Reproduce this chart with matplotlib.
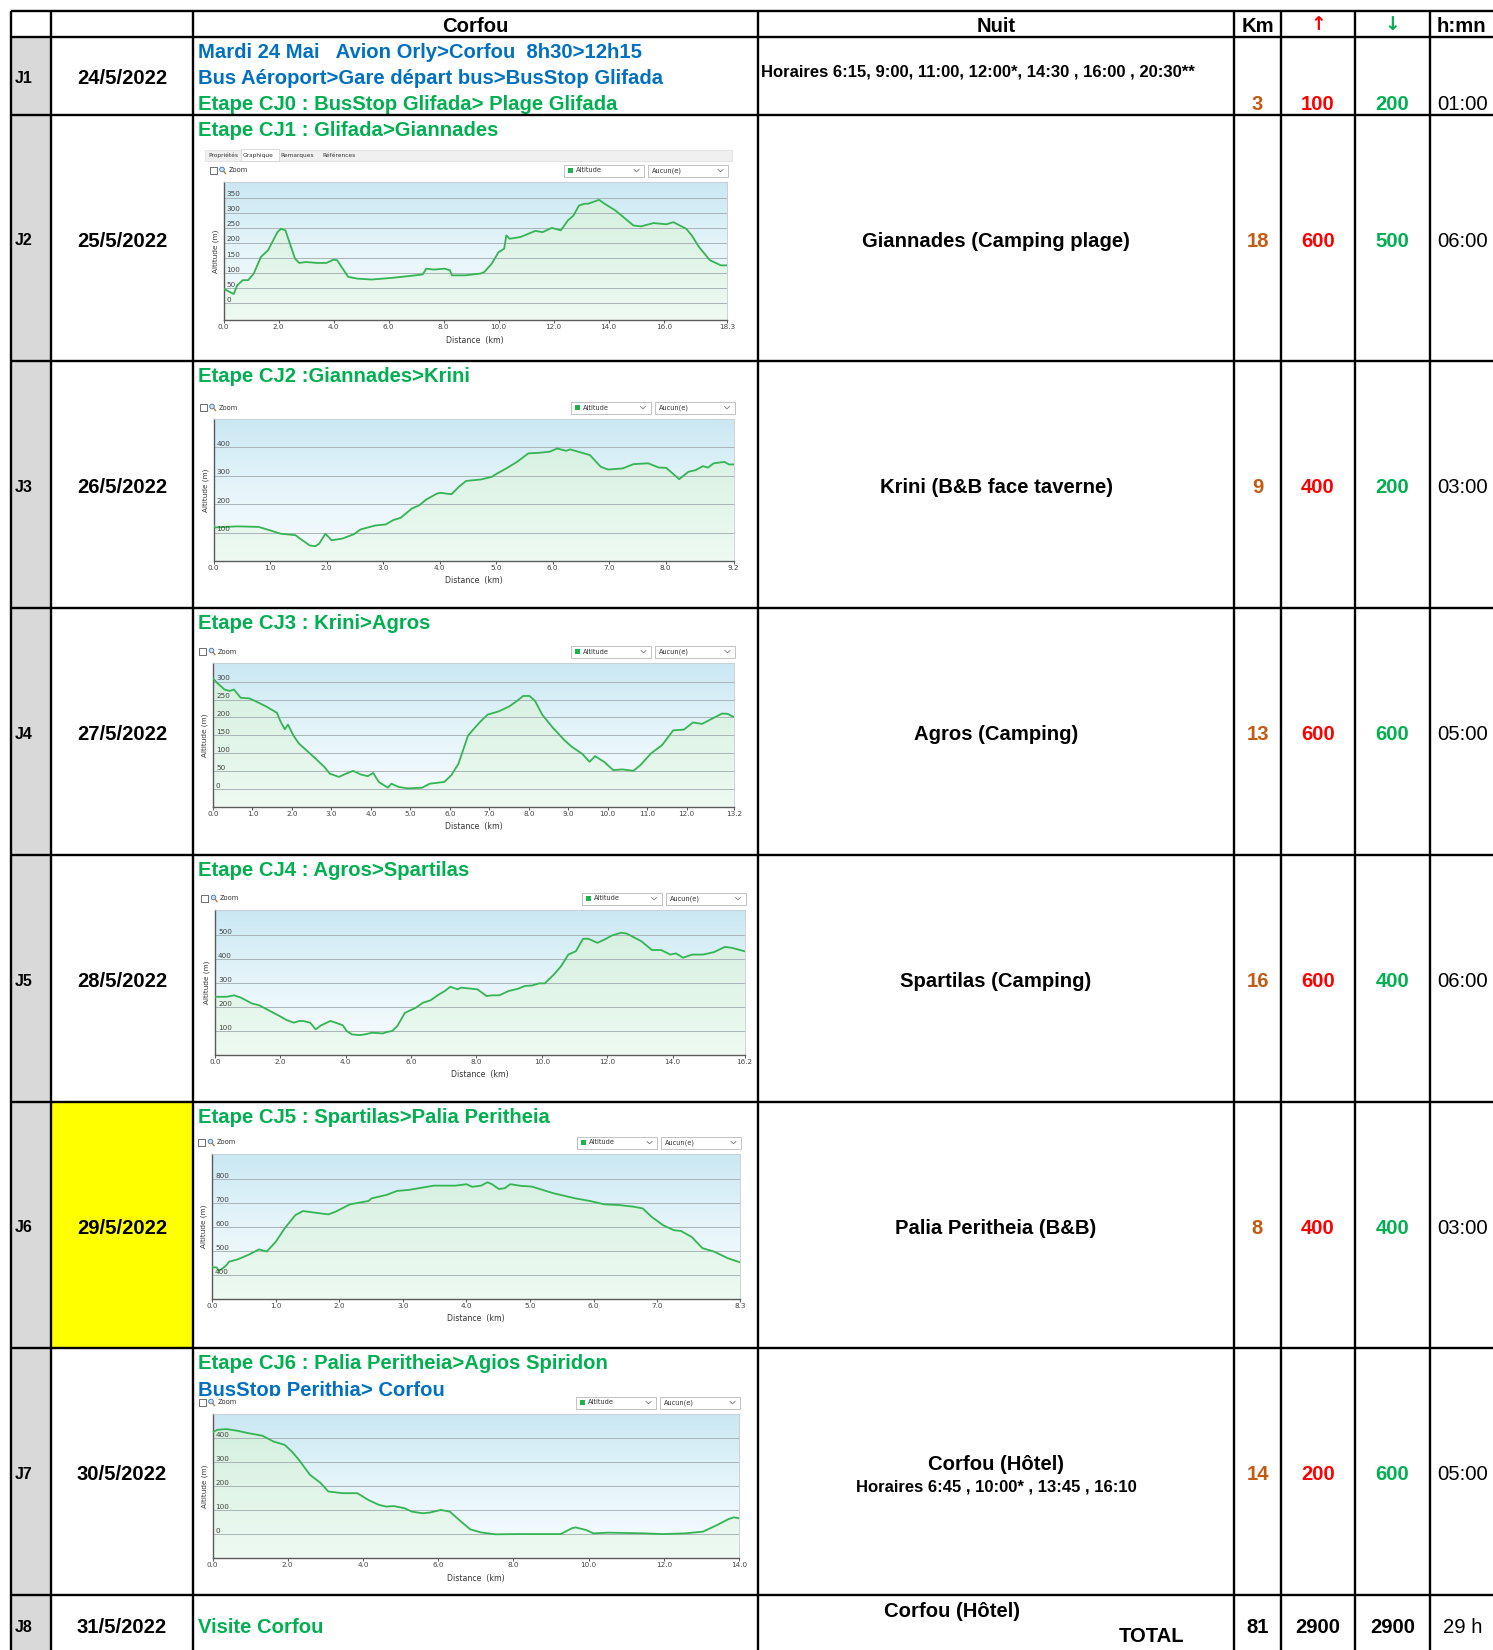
import numpy as np
import matplotlib.pyplot as plt
from matplotlib.patches import Rectangle, Circle
from matplotlib.colors import LinearSegmentedColormap
import matplotlib.transforms as mtransforms

plt.rcParams['font.family'] = ['Liberation Sans', 'DejaVu Sans']

W, H = 1493, 1650

# ---------------- table data ----------------
days = ['J1', 'J2', 'J3', 'J4', 'J5', 'J6', 'J7', 'J8']
dates = ['24/5/2022', '25/5/2022', '26/5/2022', '27/5/2022',
         '28/5/2022', '29/5/2022', '30/5/2022', '31/5/2022']
stages = ['Etape CJ0 : BusStop Glifada> Plage Glifada',
          'Etape CJ1 : Glifada>Giannades',
          'Etape CJ2 :Giannades>Krini',
          'Etape CJ3 : Krini>Agros',
          'Etape CJ4 : Agros>Spartilas',
          'Etape CJ5 : Spartilas>Palia Peritheia',
          'Etape CJ6 : Palia Peritheia>Agios Spiridon',
          'Visite Corfou']
travel_j1 = ['Mardi 24 Mai   Avion Orly>Corfou  8h30>12h15',
             'Bus Aéroport>Gare départ bus>BusStop Glifada']
travel_j7 = 'BusStop Perithia> Corfou'
nights = ['', 'Giannades (Camping plage)', 'Krini (B&B face taverne)',
          'Agros (Camping)', 'Spartilas (Camping)', 'Palia Peritheia (B&B)',
          'Corfou (Hôtel)', 'Corfou (Hôtel)']
bus_j1 = 'Horaires 6:15, 9:00, 11:00, 12:00*, 14:30 , 16:00 , 20:30**'
bus_j7 = 'Horaires 6:45 , 10:00* , 13:45 , 16:10'
km = [3, 18, 9, 13, 16, 8, 14]
ascent = [100, 600, 400, 600, 600, 400, 200]
descent = [200, 500, 200, 600, 400, 400, 600]
hours = [1, 6, 3, 5, 6, 3, 5]

# ---------------- elevation profiles (km, m) ----------------
cj1_profile = [(0, 49), (0.37, 31), (0.5, 60), (0.7, 77), (0.9, 77), (1.1, 99), (1.36, 154),
               (1.62, 176), (1.96, 236), (2.09, 247), (2.25, 242), (2.6, 148), (2.75, 134),
               (3.0, 137), (3.4, 134), (3.74, 134), (4.0, 145), (4.13, 143), (4.53, 88),
               (4.86, 82), (5.39, 79), (6.18, 85), (6.98, 93), (7.24, 96), (7.37, 115),
               (7.64, 112), (8.03, 115), (8.23, 110), (8.3, 93), (8.56, 93), (8.8, 93),
               (9.35, 99), (9.48, 104), (9.75, 132), (10.0, 170), (10.2, 181), (10.28, 225),
               (10.4, 214), (10.8, 220), (11.33, 240), (11.6, 236), (11.93, 250), (12.26, 242),
               (12.52, 275), (12.72, 291), (12.92, 324), (13.12, 330), (13.25, 330),
               (13.65, 343), (13.85, 330), (14.24, 308), (14.9, 258), (15.17, 255),
               (15.63, 266), (16.1, 262), (16.35, 269), (16.82, 247), (17.02, 225),
               (17.28, 187), (17.68, 143), (18.08, 126), (18.3, 126)]
cj2_profile = [(0, 126), (0.03, 118), (0.42, 122), (0.8, 120), (1.0, 108), (1.19, 96),
               (1.45, 91), (1.51, 82), (1.7, 55), (1.8, 52), (1.87, 61), (1.98, 96),
               (2.09, 73), (2.28, 79), (2.48, 94), (2.6, 111), (2.86, 125), (3.05, 129),
               (3.18, 144), (3.31, 152), (3.51, 185), (3.64, 196), (3.76, 216), (3.96, 238),
               (4.02, 240), (4.21, 235), (4.34, 261), (4.47, 282), (4.73, 287), (4.92, 296),
               (4.99, 305), (5.18, 326), (5.37, 349), (5.57, 379), (5.76, 381), (5.95, 385),
               (6.08, 396), (6.24, 388), (6.31, 393), (6.66, 373), (6.85, 332), (6.98, 322),
               (7.24, 326), (7.43, 341), (7.69, 344), (7.88, 329), (8.01, 328), (8.24, 288),
               (8.4, 314), (8.53, 320), (8.66, 334), (8.75, 329), (8.85, 344), (9.04, 349),
               (9.12, 340), (9.2, 340)]
cj3_profile = [(0, 309), (0.1, 297), (0.29, 278), (0.42, 274), (0.53, 278), (0.7, 255),
               (0.93, 253), (1.16, 241), (1.34, 231), (1.48, 222), (1.62, 213), (1.71, 189),
               (1.82, 167), (1.9, 180), (2.03, 151), (2.17, 128), (2.36, 109), (2.59, 86),
               (2.82, 62), (2.96, 43), (3.19, 34), (3.37, 43), (3.55, 51), (3.74, 41),
               (3.92, 36), (4.06, 45), (4.2, 20), (4.43, 4), (4.52, 15), (4.7, 6), (4.94, 2),
               (5.3, 4), (5.49, 15), (5.86, 20), (6.04, 39), (6.22, 71), (6.46, 149),
               (6.59, 166), (6.78, 189), (6.96, 208), (7.24, 217), (7.51, 231), (7.7, 246),
               (7.86, 260), (8.02, 260), (8.16, 246), (8.34, 208), (8.62, 170), (8.9, 137),
               (9.08, 119), (9.36, 98), (9.54, 76), (9.68, 92), (9.91, 76), (10.14, 53),
               (10.37, 55), (10.65, 51), (10.83, 67), (11.1, 100), (11.38, 123), (11.66, 164),
               (11.93, 166), (12.16, 186), (12.39, 182), (12.67, 198), (12.9, 211),
               (13.04, 210), (13.2, 201)]
cj4_profile = [(0, 243), (0.36, 243), (0.58, 249), (0.8, 239), (1.13, 215), (1.36, 207),
               (1.69, 183), (1.97, 163), (2.19, 146), (2.41, 135), (2.58, 142), (2.69, 142),
               (2.91, 135), (3.08, 107), (3.25, 124), (3.53, 142), (3.69, 135), (3.91, 124),
               (4.03, 100), (4.19, 86), (4.42, 83), (4.58, 86), (4.81, 93), (5.14, 90),
               (5.25, 96), (5.42, 100), (5.58, 121), (5.81, 176), (6.14, 197), (6.36, 218),
               (6.59, 228), (6.81, 249), (7.03, 267), (7.2, 285), (7.42, 274), (7.53, 281),
               (8.03, 274), (8.31, 246), (8.48, 249), (8.7, 249), (8.98, 267), (9.26, 276),
               (9.48, 288), (9.7, 290), (9.92, 299), (10.09, 299), (10.37, 336), (10.59, 371),
               (10.81, 419), (11.04, 433), (11.26, 485), (11.42, 485), (11.7, 468),
               (11.92, 482), (12.15, 499), (12.42, 510), (12.59, 507), (13.04, 475),
               (13.37, 438), (13.65, 438), (13.93, 419), (14.1, 424), (14.32, 406),
               (14.6, 419), (14.93, 419), (15.26, 429), (15.6, 451), (15.82, 447), (16.2, 433)]
cj5_profile = [(0, 432), (0.07, 432), (0.11, 418), (0.17, 428), (0.23, 442), (0.27, 456),
               (0.4, 465), (0.57, 484), (0.74, 507), (0.86, 498), (1.0, 538), (1.14, 594),
               (1.31, 650), (1.43, 667), (1.6, 661), (1.83, 653), (1.94, 664), (2.17, 695),
               (2.46, 709), (2.51, 720), (2.74, 734), (2.91, 751), (3.09, 755), (3.31, 765),
               (3.49, 773), (3.83, 773), (4.0, 779), (4.09, 768), (4.23, 773), (4.33, 787),
               (4.4, 779), (4.51, 759), (4.6, 762), (4.69, 779), (4.86, 772), (5.03, 769),
               (5.37, 741), (5.71, 720), (5.94, 709), (6.17, 695), (6.4, 692), (6.63, 685),
               (6.77, 678), (6.91, 643), (7.09, 608), (7.26, 587), (7.37, 584), (7.54, 559),
               (7.71, 512), (7.89, 498), (8.11, 470), (8.3, 453)]
cj6_profile = [(0, 425), (0.13, 436), (0.37, 439), (0.66, 432), (0.95, 422), (1.33, 411),
               (1.62, 387), (1.92, 373), (2.11, 345), (2.3, 310), (2.59, 248), (2.88, 213),
               (3.08, 178), (3.46, 171), (3.85, 171), (4.14, 143), (4.43, 122), (4.62, 115),
               (4.82, 117), (5.11, 108), (5.3, 94), (5.59, 87), (5.78, 90), (6.07, 101),
               (6.31, 94), (6.56, 59), (6.85, 20), (7.14, 7), (7.52, -1), (8.1, 0), (9.26, 0),
               (9.55, 24), (9.65, 28), (9.94, 17), (10.13, 3), (10.52, 6), (11.49, 3),
               (11.97, 0), (12.55, 3), (13.04, 10), (13.42, 38), (13.71, 62), (13.86, 70),
               (14.0, 66)]

# ---------------- layout ----------------
BLUE, GREEN, RED, BROWN = '#0070C0', '#00B050', '#FF0000', '#C55A11'
col_x = [11, 51, 193, 758, 1234, 1281, 1355, 1430]
row_y = [11, 37, 115, 361, 608, 855, 1102, 1348, 1595, 1650]
FS = 14.6

bg_cmap = LinearSegmentedColormap.from_list('bg', ['#f7fcfe', '#e6f5fa', '#cae8f3'])
fill_cmap = LinearSegmentedColormap.from_list('fill', ['#eefaf2', '#d2efdd'])


def fig_rect(l, t, r, b):
    return [l / W, 1 - b / H, (r - l) / W, (b - t) / H]


def txt(ax, x, y, s, fs=FS, bold=True, **kw):
    # y is the visual middle of capital letters
    ax.text(x, y + 0.497 * fs, s, fontsize=fs, weight='bold' if bold else 'normal',
            va='baseline', **kw)


def draw_profile(fig, ax0, box, prof, ylim, yticks, xticks, xlabels, tabs=False):
    l, t, r, b = box
    # white screenshot panel (hides what lies under it)
    ptop = t - 34 if tabs else t - 18
    ax0.add_patch(Rectangle((l - 20, ptop), r - l + 28, b - ptop + 28,
                            fc='white', ec='none', zorder=4))
    if tabs:
        ax0.add_patch(Rectangle((l - 19, t - 32), r - l + 24, 11, fc='#f0f0f0',
                                ec='#dddddd', lw=0.5, zorder=5))
        ax0.add_patch(Rectangle((l + 17, t - 33), 38, 12, fc='white',
                                ec='#cccccc', lw=0.5, zorder=5))
        for tx, lab in zip([l - 15, l + 19, l + 57, l + 99],
                           ['Propriétés', 'Graphique', 'Remarques', 'Références']):
            ax0.text(tx, t - 26.5, lab, fontsize=4.2, family='DejaVu Sans',
                     color='#333333', va='center', zorder=6)
    zy = t - 11.5
    ax0.add_patch(Rectangle((l - 14, zy - 3.5), 7, 7, fc='white', ec='#555555',
                            lw=0.6, zorder=5))
    ax0.add_patch(Circle((l - 1.5, zy - 1), 2.3, fc='#cfe3f5', ec='#3a6fb0', lw=0.6, zorder=5))
    ax0.plot([l + 0.2, l + 2], [zy + 0.8, zy + 3], color='#b08030', lw=1.0, zorder=5)
    ax0.text(l + 5, zy, 'Zoom', fontsize=4.8, family='DejaVu Sans', color='#333333',
             va='center', zorder=6)
    for x0, x1, lab, sq in [(r - 163, r - 83, 'Altitude', True), (r - 79, r + 1, 'Aucun(e)', False)]:
        ax0.add_patch(Rectangle((x0, zy - 6), x1 - x0, 12, fc='white', ec='#b8b8b8',
                                lw=0.6, zorder=5))
        tx = x0 + 4
        if sq:
            ax0.add_patch(Rectangle((x0 + 4, zy - 2.5), 5, 5, fc='#1db34a', ec='none', zorder=6))
            tx = x0 + 12
        ax0.text(tx, zy, lab, fontsize=4.8, family='DejaVu Sans', color='#333333',
                 va='center', zorder=6)
        ax0.plot([x1 - 10, x1 - 7.5, x1 - 5], [zy - 1, zy + 1.3, zy - 1], color='#777777',
                 lw=0.6, zorder=6)
    ax0.text((l + r) / 2, b + 20, 'Distance  (km)', fontsize=5.6, family='DejaVu Sans',
             color='#333333', ha='center', va='center', zorder=6)
    ax0.text(l - 8, (t + b) / 2, 'Altitude (m)', fontsize=5.2, family='DejaVu Sans',
             color='#333333', ha='center', va='center', rotation=90, zorder=6)

    ax = fig.add_axes(fig_rect(l, t, r, b))
    d = [p[0] for p in prof]
    a = [p[1] for p in prof]
    xmax = xticks[-1]
    grad = np.linspace(0, 1, 256).reshape(-1, 1)
    ext = [0, xmax, ylim[0], ylim[1]]
    ax.imshow(grad, extent=ext, origin='lower', aspect='auto', cmap=bg_cmap, zorder=0)
    poly = ax.fill_between(d, a, ylim[0], color='none', lw=0)
    im = ax.imshow(grad, extent=ext, origin='lower', aspect='auto', cmap=fill_cmap, zorder=1)
    im.set_clip_path(poly.get_paths()[0], transform=ax.transData)
    lab_tr = mtransforms.offset_copy(ax.get_yaxis_transform(), fig=fig, x=3, y=0.5, units='dots')
    for v in yticks:
        ax.axhline(v, color='#a9b3b8', lw=0.7, zorder=2)
        ax.text(0, v, str(v), transform=lab_tr, fontsize=5.2, family='DejaVu Sans',
                color='#444444', va='bottom', ha='left', zorder=4)
    ax.plot(d, a, color='#34b454', lw=1.3, zorder=3)
    ax.set_xlim(0, xmax)
    ax.set_ylim(*ylim)
    ax.set_yticks([])
    ax.set_xticks(xticks)
    ax.set_xticklabels(xlabels, fontsize=5.2, family='DejaVu Sans', color='#444444')
    ax.tick_params(axis='x', length=2.2, width=0.7, color='#555555', pad=1)
    for s in ['left', 'bottom']:
        ax.spines[s].set_color('#5a5a5a')
        ax.spines[s].set_linewidth(1.0)
    for s in ['top', 'right']:
        ax.spines[s].set_color('#c5cdd1')
        ax.spines[s].set_linewidth(0.6)
    return ax


fig = plt.figure(figsize=(W / 100, H / 100), dpi=100)
ax0 = fig.add_axes([0, 0, 1, 1])
ax0.set_xlim(0, W)
ax0.set_ylim(H, 0)
ax0.axis('off')

# cell fills
ax0.add_patch(Rectangle((col_x[0], row_y[1]), col_x[1] - col_x[0], H - row_y[1],
                        fc='#D9D9D9', ec='none', zorder=1))
ax0.add_patch(Rectangle((col_x[1], row_y[6]), col_x[2] - col_x[1], row_y[7] - row_y[6],
                        fc='#FFFF00', ec='none', zorder=1))

# grid lines
for y in row_y[:-1]:
    ax0.plot([col_x[0], W], [y, y], color='black', lw=1.7, zorder=10, solid_capstyle='butt')
for x in col_x:
    ax0.plot([x, x], [row_y[0], H], color='black', lw=1.7, zorder=10, solid_capstyle='butt')

cx = [(col_x[i] + col_x[i + 1]) / 2 for i in range(len(col_x) - 1)]
hx = 1437

# header
hy = 25
txt(ax0, cx[2], hy, 'Corfou', ha='center')
txt(ax0, cx[3], hy, 'Nuit', ha='center')
txt(ax0, cx[4], hy, 'Km', ha='center')
ax0.text(cx[5], hy, '↑', fontsize=13.5, family='DejaVu Sans', weight='bold', ha='center',
         va='center', color=RED)
ax0.text(cx[6], hy, '↓', fontsize=13.5, family='DejaVu Sans', weight='bold', ha='center',
         va='center', color=GREEN)
txt(ax0, hx, hy, 'h:mn', ha='left')

# rows
for i, day in enumerate(days):
    top, bot = row_y[i + 1], row_y[i + 2]
    ym = (top + bot) / 2 + 1.5
    if i == 0:
        ym = 77
    if i == 7:
        ym = 1626
    txt(ax0, 15, ym, day, fs=11.5)
    txt(ax0, cx[1], ym, dates[i], ha='center')

    if i == 0:
        txt(ax0, 198, 51, travel_j1[0], color=BLUE)
        txt(ax0, 198, 77, travel_j1[1], color=BLUE)
        txt(ax0, 198, 102.5, stages[0], color=GREEN)
        txt(ax0, 761, 71, bus_j1, fs=12)
        vy = 102.5
    elif i == 7:
        txt(ax0, 198, ym, stages[7], color=GREEN)
        txt(ax0, 952, 1610, nights[7], ha='center')
        txt(ax0, 1152, 1635, 'TOTAL', ha='center')
        txt(ax0, cx[4], ym, str(sum(km)), ha='center')
        txt(ax0, cx[5], ym, str(sum(ascent)), ha='center')
        txt(ax0, cx[6], ym, str(sum(descent)), ha='center')
        txt(ax0, 1443, ym, f'{sum(hours)} h', bold=False, ha='left')
        continue
    else:
        txt(ax0, 198, top + 14, stages[i], color=GREEN, zorder=3)
        if i == 6:
            txt(ax0, 198, 1389, travel_j7, color=BLUE, zorder=3)
            txt(ax0, cx[3], 1462.5, nights[i], ha='center')
            txt(ax0, cx[3], 1486, bus_j7, fs=12, ha='center')
        else:
            txt(ax0, cx[3], ym, nights[i], ha='center')
        vy = ym
    txt(ax0, cx[4], vy, str(km[i]), ha='center', color=BROWN)
    txt(ax0, cx[5], vy, str(ascent[i]), ha='center', color=RED)
    txt(ax0, cx[6], vy, str(descent[i]), ha='center', color=GREEN)
    txt(ax0, hx, vy, f'{hours[i]:02d}:00', bold=False, ha='left')

# elevation charts
draw_profile(fig, ax0, (223.5, 182, 727, 320), cj1_profile, (-55, 402), list(range(0, 351, 50)),
             [0, 2, 4, 6, 8, 10, 12, 14, 16, 18.3],
             ['0.0', '2.0', '4.0', '6.0', '8.0', '10.0', '12.0', '14.0', '16.0', '18.3'], tabs=True)
draw_profile(fig, ax0, (213.5, 419, 733.5, 561), cj2_profile, (0, 500), [100, 200, 300, 400],
             [0, 1, 2, 3, 4, 5, 6, 7, 8, 9.2],
             ['0.0', '1.0', '2.0', '3.0', '4.0', '5.0', '6.0', '7.0', '8.0', '9.2'])
draw_profile(fig, ax0, (213, 663, 734, 807), cj3_profile, (-50, 352), list(range(0, 301, 50)),
             list(range(13)) + [13.2], [f'{v:.1f}' for v in range(13)] + ['13.2'])
draw_profile(fig, ax0, (215, 910, 744.5, 1055), cj4_profile, (0, 605), [100, 200, 300, 400, 500],
             [0, 2, 4, 6, 8, 10, 12, 14, 16.2],
             ['0.0', '2.0', '4.0', '6.0', '8.0', '10.0', '12.0', '14.0', '16.2'])
draw_profile(fig, ax0, (212, 1154, 740, 1299), cj5_profile, (300, 905), [400, 500, 600, 700, 800],
             [0, 1, 2, 3, 4, 5, 6, 7, 8.3],
             ['0.0', '1.0', '2.0', '3.0', '4.0', '5.0', '6.0', '7.0', '8.3'])
draw_profile(fig, ax0, (212.5, 1414, 739, 1558), cj6_profile, (-100, 502), [0, 100, 200, 300, 400],
             [0, 2, 4, 6, 8, 10, 12, 14],
             ['0.0', '2.0', '4.0', '6.0', '8.0', '10.0', '12.0', '14.0'])

fig.savefig('out.png', dpi=100)
